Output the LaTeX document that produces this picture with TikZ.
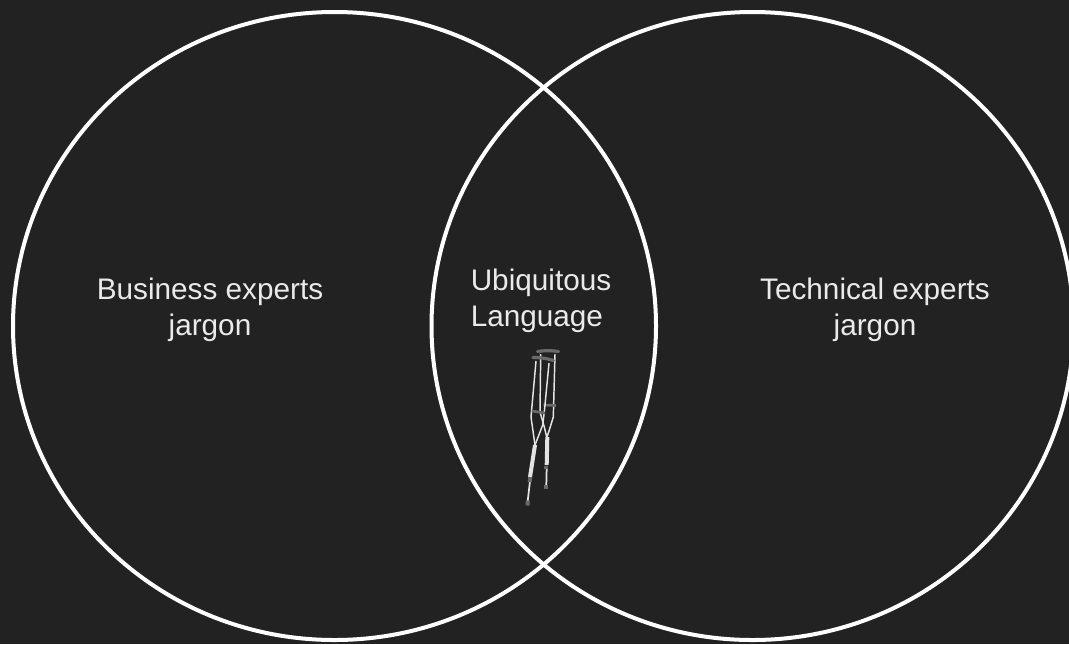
\documentclass[tikz,border=0pt]{standalone}
\usepackage{fontspec}
\setmainfont{Liberation Sans}
\usetikzlibrary{calc,positioning}
\definecolor{slate}{HTML}{222222}
\definecolor{chalk}{HTML}{EAEAEA}
\definecolor{railgrey}{HTML}{E4E4E4}
\definecolor{padgrey}{HTML}{6A6A6A}
\tikzset{
  ring/.style={draw=white,line width=3pt},
  jargon/.style={text=chalk,font=\fontsize{22.3}{27}\selectfont,align=center,inner sep=0pt},
  rail/.style={draw=railgrey,line width=1.1pt,line join=round},
  tube/.style={draw=railgrey,line width=3pt},
  stem/.style={draw=railgrey,line width=1.3pt},
  pad/.style={draw=padgrey,line width=2.4pt,line cap=round},
  grip/.style={draw=padgrey,line width=2pt},
  tip/.style={draw=padgrey,line width=3pt}
}
\begin{document}
\begin{tikzpicture}[x=0.75pt,y=-0.75pt]

\fill[slate] (0,0) rectangle (1069,644);
\useasboundingbox (0,0) rectangle (1069,644);

\draw[ring] (334.5,326) ellipse [x radius=321.5,y radius=314];
\draw[ring] (752.5,326) ellipse [x radius=321,y radius=314];

\node[jargon] (business) at (210,310) {Business experts\\jargon};
\node[jargon] (technical) at (875,310) {Technical experts\\jargon};
\node[jargon,align=left] (ubiquitous) at (541,301) {Ubiquitous\\Language};

% rear crutch
\draw[rail] (540.7,354) -- (540,412) -- (544.3,427) -- (546.7,437);
\draw[rail] (555,354) -- (553.3,417) -- (549.3,430) -- (547,437);
\draw[tube] (547.3,437) -- (546.7,465);
\draw[stem] (546.7,468) -- (546.3,485);
\draw[grip] (543.3,405) -- (556,405.5);
\draw[pad] (537.5,351.5) to[bend left=8] (558.5,351.5);
\draw[tip] (546,465.5) -- (546,469);
\draw[tip] (546.3,484.5) -- (546.3,489);

% front crutch
\draw[rail] (536,361) -- (531,417) -- (535,445);
\draw[rail] (549,363) -- (544.5,410) -- (542.7,425) -- (535,445);
\draw[tube] (535,445) -- (530,477);
\draw[stem] (530,481) -- (527.7,501);
\draw[grip] (531.7,411) -- (545,413);
\draw[pad] (533,357.5) to[bend left=8] (553.5,360.5);
\draw[tip] (530.3,477) -- (529.7,482);
\draw[tip] (527.8,500.5) -- (527.5,505.5);

\end{tikzpicture}
\end{document}
